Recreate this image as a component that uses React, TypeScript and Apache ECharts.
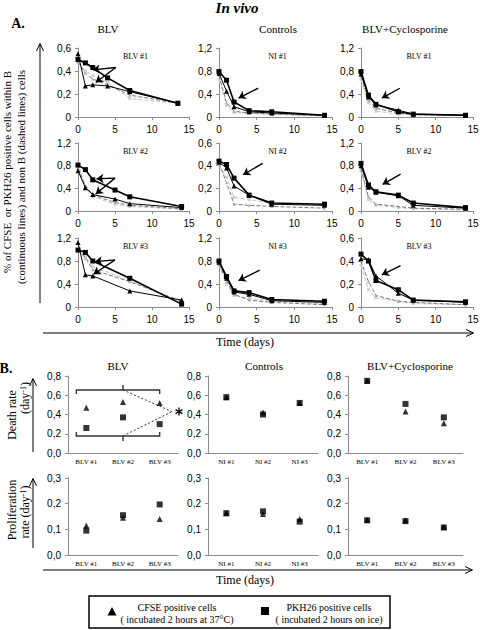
import React, { useEffect, useRef } from 'react';
import * as echarts from 'echarts';

// ---------- Panel A data (fraction of labelled cells vs time in days) ----------
const blv1Days = [0, 1, 2, 4, 7, 13.5];
const blv1Pkh = [0.5, 0.47, 0.43, 0.34, 0.23, 0.12];
const blv1Cfse = [0.55, 0.27, 0.28, 0.27, 0.22, 0.12];
const blv1NonB1 = [0.48, 0.38, 0.33, 0.28, 0.19, 0.12];
const blv1NonB2 = [0.47, 0.4, 0.36, 0.3, 0.16, 0.12];
const blv1Arrows = [[5.1, 0.43, 2.0, 0.41], [5.1, 0.43, 2.4, 0.3]];

const ni1Days = [0, 1, 2, 4, 7, 14];
const ni1Pkh = [0.79, 0.64, 0.26, 0.11, 0.09, 0.03];
const ni1Cfse = [0.76, 0.45, 0.18, 0.09, 0.07, 0.03];
const ni1NonB1 = [0.72, 0.25, 0.1, 0.07, 0.05, 0.02];
const ni1NonB2 = [0.65, 0.2, 0.08, 0.06, 0.05, 0.02];
const ni1Arrows = [[5.2, 0.5, 2.6, 0.33]];

const cyc1Days = [0, 1, 2, 5, 7, 14];
const cyc1Pkh = [0.79, 0.38, 0.22, 0.09, 0.05, 0.03];
const cyc1Cfse = [0.75, 0.35, 0.21, 0.12, 0.05, 0.03];
const cyc1NonB1 = [0.7, 0.3, 0.15, 0.07, 0.04, 0.03];
const cyc1NonB2 = [0.65, 0.25, 0.1, 0.05, 0.04, 0.03];
const cyc1Arrows = [[5.2, 0.5, 2.8, 0.33]];

const blv2Days = [0, 1, 2, 5, 7, 14];
const blv2Pkh = [0.81, 0.73, 0.55, 0.37, 0.25, 0.08];
const blv2Cfse = [0.71, 0.41, 0.29, 0.21, 0.13, 0.06];
const blv2NonB1 = [0.75, 0.45, 0.28, 0.15, 0.1, 0.04];
const blv2NonB2 = [0.85, 0.4, 0.25, 0.12, 0.08, 0.03];
const blv2Arrows = [[5, 0.58, 2.5, 0.57], [5, 0.58, 2.4, 0.3]];

const ni2Days = [0, 1, 2, 4, 7, 14];
const ni2Pkh = [0.44, 0.41, 0.29, 0.14, 0.07, 0.06];
const ni2Cfse = [0.43, 0.38, 0.22, 0.14, 0.06, 0.05];
const ni2NonB1 = [0.42, 0.25, 0.06, 0.05, 0.04, 0.025];
const ni2NonB2 = [0.4, 0.3, 0.12, 0.1, 0.07, 0.05];
const ni2Arrows = [[5.8, 0.42, 3.2, 0.32]];

const cyc2Days = [0, 1, 2, 5, 7, 14];
const cyc2Pkh = [0.84, 0.46, 0.34, 0.28, 0.14, 0.06];
const cyc2Cfse = [0.8, 0.42, 0.33, 0.27, 0.1, 0.05];
const cyc2NonB1 = [0.75, 0.25, 0.12, 0.08, 0.05, 0.03];
const cyc2NonB2 = [0.7, 0.2, 0.1, 0.06, 0.04, 0.02];
const cyc2Arrows = [[5.3, 0.65, 2.9, 0.47]];

const blv3Days = [0, 1, 2, 7, 14];
const blv3Pkh = [0.99, 0.95, 0.8, 0.5, 0.05];
const blv3Cfse = [1.12, 0.56, 0.54, 0.28, 0.12];
const blv3NonB1 = [1.0, 0.85, 0.65, 0.44, 0.1];
const blv3NonB2 = [0.98, 0.88, 0.7, 0.46, 0.08];
const blv3Arrows = [[5, 0.82, 2.3, 0.79], [5, 0.82, 2.1, 0.57]];

const ni3Days = [0, 1, 2, 4, 7, 14];
const ni3Pkh = [0.8, 0.53, 0.28, 0.25, 0.13, 0.1];
const ni3Cfse = [0.78, 0.5, 0.26, 0.22, 0.11, 0.08];
const ni3NonB1 = [0.75, 0.45, 0.22, 0.12, 0.08, 0.04];
const ni3NonB2 = [0.72, 0.4, 0.2, 0.15, 0.1, 0.06];
const ni3Arrows = [[5.4, 0.64, 2.6, 0.46]];

const cyc3Days = [0, 1, 2, 5, 7, 14];
const cyc3Pkh = [0.46, 0.4, 0.23, 0.15, 0.06, 0.045];
const cyc3Cfse = [0.42, 0.41, 0.27, 0.12, 0.06, 0.04];
const cyc3NonB1 = [0.4, 0.22, 0.1, 0.05, 0.04, 0.02];
const cyc3NonB2 = [0.36, 0.15, 0.08, 0.05, 0.03, 0.02];
const cyc3Arrows = [[5.3, 0.36, 2.8, 0.28]];

const panelALabels = ['BLV #1', 'NI #1', 'BLV #1', 'BLV #2', 'NI #2', 'BLV #2', 'BLV #3', 'NI #3', 'BLV #3'];
const panelAYMax = [0.6, 1.2, 1.2, 1.2, 0.6, 1.2, 1.2, 1.2, 0.6];
const columnTitles = ['BLV', 'Controls', 'BLV+Cyclosporine'];

// ---------- Panel B data ----------
const blvCats = ['BLV #1', 'BLV #2', 'BLV #3'];
const niCats = ['NI #1', 'NI #2', 'NI #3'];
const deathCfseBlv = [0.47, 0.53, 0.52];
const deathPkhBlv = [0.26, 0.37, 0.3];
const deathCfseNi = [0.58, 0.42, 0.52];
const deathPkhNi = [0.58, 0.4, 0.52];
const deathCfseCyc = [0.75, 0.43, 0.31];
const deathPkhCyc = [0.75, 0.51, 0.37];
const prolCfseBlv = [0.115, 0.145, 0.14];
const prolPkhBlv = [0.095, 0.155, 0.197];
const prolCfseNi = [0.163, 0.16, 0.14];
const prolPkhNi = [0.163, 0.17, 0.13];
const prolCfseCyc = [0.137, 0.135, 0.11];
const prolPkhCyc = [0.135, 0.132, 0.107];

const serif = '"Liberation Serif", "Times New Roman", serif';
const sans = '"Liberation Sans", Arial, sans-serif';

function buildOption() {
  const panelsA = [
    [blv1Days, blv1Pkh, blv1Cfse, blv1NonB1, blv1NonB2, blv1Arrows],
    [ni1Days, ni1Pkh, ni1Cfse, ni1NonB1, ni1NonB2, ni1Arrows],
    [cyc1Days, cyc1Pkh, cyc1Cfse, cyc1NonB1, cyc1NonB2, cyc1Arrows],
    [blv2Days, blv2Pkh, blv2Cfse, blv2NonB1, blv2NonB2, blv2Arrows],
    [ni2Days, ni2Pkh, ni2Cfse, ni2NonB1, ni2NonB2, ni2Arrows],
    [cyc2Days, cyc2Pkh, cyc2Cfse, cyc2NonB1, cyc2NonB2, cyc2Arrows],
    [blv3Days, blv3Pkh, blv3Cfse, blv3NonB1, blv3NonB2, blv3Arrows],
    [ni3Days, ni3Pkh, ni3Cfse, ni3NonB1, ni3NonB2, ni3Arrows],
    [cyc3Days, cyc3Pkh, cyc3Cfse, cyc3NonB1, cyc3NonB2, cyc3Arrows],
  ] as any[];

  const colLeftA = [78, 219, 361];
  const colWidthA = [111, 113, 112];
  const rowTopA = [48, 143, 238];
  const rowHA = [69, 68, 69];
  const colLeftB = [68, 208, 348];
  const colWidthB = [110, 110, 115];
  const rowTopB = [376, 478];
  const rowHB = [77, 77];

  const grid: any[] = [];
  const xAxis: any[] = [];
  const yAxis: any[] = [];
  const series: any[] = [];
  const graphic: any[] = [];

  const axisLine = { show: true, lineStyle: { color: '#8c8c8c', width: 1 } };
  const axisTick = { show: true, length: 3, inside: false, lineStyle: { color: '#8c8c8c' } };
  const fmtA = (v: number) => (v === 0 ? '0' : (Math.round(v * 10) / 10).toString().replace('.', ','));
  const fmtB = (v: number) => v.toFixed(1).replace('.', ',');
  const zip = (xs: number[], ys: number[]) => xs.map((x, k) => [x, ys[k]]);

  const txt = (text: string, x: number, y: number, font: string, extra: any = {}) => ({
    type: 'text', x, y, silent: true, ...extra,
    style: { text, font, fill: '#000', textAlign: 'center', textVerticalAlign: 'middle', ...(extra.style || {}) },
  });
  const line = (x1: number, y1: number, x2: number, y2: number, w = 1, dash: any = null, color = '#000') => ({
    type: 'line', silent: true,
    shape: { x1, y1, x2, y2 },
    style: { stroke: color, lineWidth: w, lineDash: dash },
  });
  const poly = (points: number[][], w = 1, color = '#000') => ({
    type: 'polyline', silent: true, shape: { points }, style: { stroke: color, lineWidth: w, fill: null },
  });

  // ---------- Panel A ----------
  panelsA.forEach((p, i) => {
    const row = Math.floor(i / 3);
    const col = i % 3;
    const [days, pkh, cfse, nb1, nb2, arrows] = p;
    const max = panelAYMax[i];
    grid.push({ left: colLeftA[col], top: rowTopA[row], width: colWidthA[col], height: rowHA[row], outerBoundsMode: 'none', containLabel: false });
    xAxis.push({
      gridIndex: i, type: 'value', min: 0, max: 15, interval: 5,
      axisLine, axisTick, splitLine: { show: false },
      axisLabel: { fontSize: 10, fontFamily: sans, color: '#000', margin: 7 },
    });
    yAxis.push({
      gridIndex: i, type: 'value', min: 0, max, interval: max / 3,
      axisLine, axisTick, splitLine: { show: false },
      axisLabel: { fontSize: 10, fontFamily: sans, color: '#000', margin: 7, formatter: fmtA },
    });
    series.push({
      type: 'line', xAxisIndex: i, yAxisIndex: i, data: zip(days, nb2),
      lineStyle: { color: '#c4c4c4', width: 1, type: 'dashed' },
      symbol: 'rect', symbolSize: 3, itemStyle: { color: '#d0d0d0' }, z: 2,
    });
    series.push({
      type: 'line', xAxisIndex: i, yAxisIndex: i, data: zip(days, nb1),
      lineStyle: { color: '#777', width: 1, type: [4, 2] },
      symbol: 'triangle', symbolSize: 3, itemStyle: { color: '#aaa' }, z: 3,
    });
    series.push({
      type: 'line', xAxisIndex: i, yAxisIndex: i, data: zip(days, cfse),
      lineStyle: { color: '#000', width: 1 },
      symbol: 'triangle', symbolSize: 5, itemStyle: { color: '#000' }, z: 4,
    });
    series.push({
      type: 'line', xAxisIndex: i, yAxisIndex: i, data: zip(days, pkh),
      lineStyle: { color: '#000', width: 1.6 },
      symbol: 'rect', symbolSize: 5, itemStyle: { color: '#000' }, z: 5,
      markLine: {
        silent: true, symbol: ['none', 'arrow'], symbolSize: 7,
        lineStyle: { color: '#000', width: 1.4, type: 'solid' },
        label: { show: false }, emphasis: { disabled: true },
        data: (arrows as number[][]).map((a) => [{ coord: [a[0], a[1]] }, { coord: [a[2], a[3]] }]),
      },
    });
    graphic.push(txt(panelALabels[i], colLeftA[col] + colWidthA[col] / 2 + 2, rowTopA[row] + 8, `8px ${serif}`));
  });

  // ---------- Panel B ----------
  const bSets = [
    [blvCats, deathCfseBlv, deathPkhBlv, 0.8],
    [niCats, deathCfseNi, deathPkhNi, 0.8],
    [blvCats, deathCfseCyc, deathPkhCyc, 0.8],
    [blvCats, prolCfseBlv, prolPkhBlv, 0.3],
    [niCats, prolCfseNi, prolPkhNi, 0.3],
    [blvCats, prolCfseCyc, prolPkhCyc, 0.3],
  ] as any[];
  bSets.forEach((b, j) => {
    const gi = 9 + j;
    const row = Math.floor(j / 3);
    const col = j % 3;
    const [cats, cf, pk, max] = b;
    grid.push({ left: colLeftB[col], top: rowTopB[row], width: colWidthB[col], height: rowHB[row], outerBoundsMode: 'none', containLabel: false });
    xAxis.push({
      gridIndex: gi, type: 'category', data: cats, boundaryGap: true,
      axisLine, axisTick: { show: false }, splitLine: { show: false },
      axisLabel: { fontSize: 7, fontFamily: serif, color: '#000', margin: 5, interval: 0 },
    });
    yAxis.push({
      gridIndex: gi, type: 'value', min: 0, max, interval: max / (max === 0.8 ? 4 : 3),
      axisLine, axisTick, splitLine: { show: false },
      axisLabel: { fontSize: 10, fontFamily: sans, color: '#000', margin: 7, formatter: fmtB },
    });
    series.push({
      type: 'scatter', xAxisIndex: gi, yAxisIndex: gi, data: cf,
      symbol: 'triangle', symbolSize: 6, itemStyle: { color: '#000' }, z: 4,
    });
    series.push({
      type: 'scatter', xAxisIndex: gi, yAxisIndex: gi, data: pk,
      symbol: 'rect', symbolSize: 6, itemStyle: { color: '#000' }, z: 5,
    });
  });

  // ---------- Texts & decorations ----------
  graphic.push(txt('In vivo', 237, 8, `italic bold 15px ${serif}`));
  graphic.push(txt('A.', 18, 23, `bold 14px ${serif}`));
  graphic.push(txt('B.', 6, 368, `bold 14px ${serif}`));
  const aTitleX = [108, 278, 405];
  columnTitles.forEach((t, k) => graphic.push(txt(t, aTitleX[k], 29, `11px ${serif}`)));
  const bTitleX = [118, 264, 410];
  columnTitles.forEach((t, k) => graphic.push(txt(t, bTitleX[k], 366, `11px ${serif}`)));

  // Panel A y label + arrow
  graphic.push(txt('% of CFSE  or PKH26 positive cells within B', 7, 172, `11px ${serif}`, { rotation: Math.PI / 2 }));
  graphic.push(txt('(continuous lines) and non B (dashed lines) cells', 21, 177, `11px ${serif}`, { rotation: Math.PI / 2 }));
  graphic.push(line(40, 303, 40, 44, 1));
  graphic.push(poly([[36.5, 51], [40, 43.5], [43.5, 51]], 1));
  // Panel A time arrow
  graphic.push(line(43, 333, 473, 333, 1));
  graphic.push(poly([[466, 329.5], [473.5, 333], [466, 336.5]], 1));
  graphic.push(txt('Time (days)', 245, 342, `12px ${serif}`));

  // Panel B y labels
  const richFont = (base: number) => ({
    a: { font: `${base}px ${serif}`, fill: '#000' },
    s: { font: `${base - 4}px ${serif}`, fill: '#000', verticalAlign: 'top' },
  });
  graphic.push(txt('Death rate', 12, 415, `12px ${serif}`, { rotation: Math.PI / 2 }));
  graphic.push({
    type: 'text', x: 25, y: 398, rotation: Math.PI / 2, silent: true,
    style: { text: '{a|(day}{s|-1}{a|)}', rich: richFont(12), textAlign: 'center', textVerticalAlign: 'middle' },
  });
  graphic.push(line(33, 452, 33, 379, 1));
  graphic.push(poly([[29.5, 386], [33, 378.5], [36.5, 386]], 1));
  graphic.push(txt('Proliferation', 12, 510, `12px ${serif}`, { rotation: Math.PI / 2 }));
  graphic.push({
    type: 'text', x: 25, y: 512, rotation: Math.PI / 2, silent: true,
    style: { text: '{a|rate (day}{s|-1}{a|)}', rich: richFont(12), textAlign: 'center', textVerticalAlign: 'middle' },
  });
  graphic.push(line(33, 548, 33, 479, 1));
  graphic.push(poly([[29.5, 486], [33, 478.5], [36.5, 486]], 1));
  // Panel B time arrow
  graphic.push(line(43, 570, 472, 570, 1));
  graphic.push(poly([[465, 566.5], [472.5, 570], [465, 573.5]], 1));
  graphic.push(txt('Time (days)', 245, 580, `12px ${serif}`));

  // Significance brackets in BLV death-rate plot
  const bx = (idx: number) => colLeftB[0] + (colWidthB[0] * (idx + 0.5)) / 3;
  const by = (v: number) => rowTopB[0] + rowHB[0] * (1 - v / 0.8);
  const L = bx(0) - 10, R = bx(2), M = bx(1);
  const yT = by(0.655), yB = by(0.177);
  graphic.push(poly([[L, yT + 4], [L, yT], [R, yT], [R, yT + 4]], 1.4, '#333'));
  graphic.push(line(M, yT, M, yT - 5, 1.4, null, '#333'));
  graphic.push(poly([[L, yB - 4], [L, yB], [R, yB], [R, yB - 4]], 1.4, '#333'));
  graphic.push(line(M, yB, M, yB + 5, 1.4, null, '#333'));
  const sx = colLeftB[0] + colWidthB[0] - 6, sy = by(0.43);
  graphic.push(line(M, yT, sx, sy, 1, [2, 2], '#333'));
  graphic.push(line(M, yB, sx, sy, 1, [2, 2], '#333'));
  // asterisk drawn as three crossing strokes
  const ax = sx + 7, ay = sy, ar = 4;
  for (let k = 0; k < 3; k++) {
    const ang = Math.PI / 2 + (k * Math.PI) / 3;
    graphic.push(line(ax - ar * Math.cos(ang), ay - ar * Math.sin(ang), ax + ar * Math.cos(ang), ay + ar * Math.sin(ang), 1.3));
  }

  // Legend box
  graphic.push({ type: 'rect', silent: true, shape: { x: 89, y: 596, width: 301, height: 32 }, style: { fill: '#fff', stroke: '#000', lineWidth: 1.5 } });
  graphic.push({ type: 'polygon', silent: true, shape: { points: [[107.5, 615.5], [112, 607], [116.5, 615.5]] }, style: { fill: '#000' } });
  graphic.push({ type: 'rect', silent: true, shape: { x: 261, y: 607, width: 8, height: 8 }, style: { fill: '#000' } });
  graphic.push(txt('CFSE positive cells', 177, 607, `10px ${serif}`));
  graphic.push(txt('( incubated 2 hours at 37°C)', 177, 619, `10px ${serif}`));
  graphic.push(txt('PKH26 positive cells', 329, 607, `10px ${serif}`));
  graphic.push(txt('( incubated 2 hours on ice)', 329, 619, `10px ${serif}`));

  return {
    animation: false,
    backgroundColor: '#fff',
    grid, xAxis, yAxis, series, graphic,
  };
}

export default function App() {
  const ref = useRef<HTMLDivElement>(null);
  useEffect(() => {
    const chart = echarts.init(ref.current!, null, { renderer: 'svg' });
    chart.setOption(buildOption() as any);
    return () => chart.dispose();
  }, []);
  return <div ref={ref} style={{ position: 'absolute', left: 0, top: 0, width: 480, height: 630 }} />;
}
